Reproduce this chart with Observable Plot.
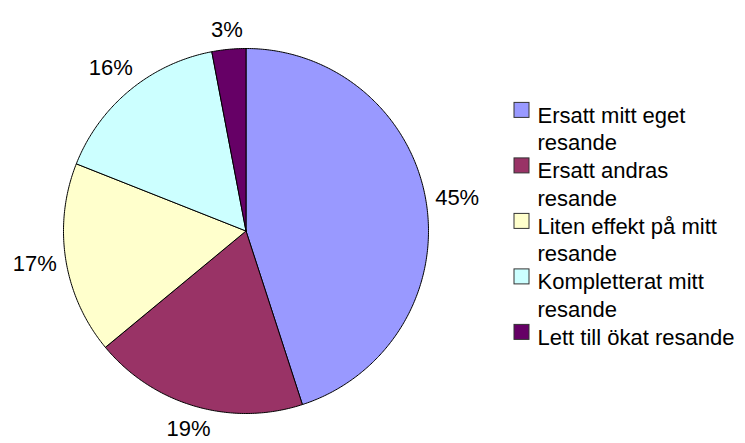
<!DOCTYPE html>
<html>
<head>
<meta charset="utf-8">
<script src="https://cdn.jsdelivr.net/npm/d3@7"></script>
<script src="https://cdn.jsdelivr.net/npm/@observablehq/plot@0.6"></script>
<style>
  html, body { margin: 0; padding: 0; background: #fff; }
  #chart svg { display: block; }
</style>
</head>
<body>
<div id="chart"></div>
<script>
// ---- data ----
const categories = [
  "Ersatt mitt eget resande",
  "Ersatt andras resande",
  "Liten effekt på mitt resande",
  "Kompletterat mitt resande",
  "Lett till ökat resande"
];
const legendLabels = [
  "Ersatt mitt eget\nresande",
  "Ersatt andras\nresande",
  "Liten effekt på mitt\nresande",
  "Kompletterat mitt\nresande",
  "Lett till ökat resande"
];
const values = [45, 19, 17, 16, 3];
const colors = ["#9999FF", "#993366", "#FFFFCC", "#CCFFFF", "#660066"];

// ---- layout ----
const W = 745, H = 443;
const cx = 245.5, cy = 230.5, R = 182.5;
const font = "Arial, 'Liberation Sans', sans-serif";
const fs = 22;
const gap = 8;

const arcs = d3.pie().sort(null).value(d => d)(values);
const pts = (a) => [cx + R * Math.sin(a), cy - R * Math.cos(a)];

const slicePts = [];
arcs.forEach((a, i) => {
  const n = Math.max(2, Math.ceil((a.endAngle - a.startAngle) / 0.01));
  slicePts.push({k: categories[i], x: cx, y: cy});
  for (let j = 0; j <= n; j++) {
    const t = a.startAngle + (a.endAngle - a.startAngle) * j / n;
    const [x, y] = pts(t);
    slicePts.push({k: categories[i], x, y});
  }
  slicePts.push({k: categories[i], x: cx, y: cy});
});

// labels placed just outside the rim: box half-extent along the bisector
const labels = arcs.map((a, i) => {
  const m = (a.startAngle + a.endAngle) / 2;
  const text = values[i] + "%";
  const w = (0.556 * String(values[i]).length + 0.889) * fs;
  const h = 0.9 * fs;
  const s = Math.sin(m), c = Math.cos(m);
  const d = R + gap + Math.abs(s) * w / 2 + Math.abs(c) * h / 2;
  return {text, x: cx + d * s, y: cy - d * c};
});

// legend
const legX = 514, legSize = 15, legTextX = 537, legTop = 102.4, lineH = 27.75;
let yAcc = legTop;
const legend = legendLabels.map((t, i) => {
  const row = {k: categories[i], label: t, y: yAcc};
  yAcc += lineH * t.split("\n").length;
  return row;
});

const colorScale = {domain: categories, range: colors};

const chart = Plot.plot({
  width: W, height: H,
  margin: 0,
  style: {background: "#fff", fontFamily: font},
  x: {domain: [0, W], range: [0, W], axis: null},
  y: {domain: [0, H], range: [0, H], axis: null},
  color: colorScale,
  marks: [
    Plot.line(slicePts, {x: "x", y: "y", z: "k", fill: "k", stroke: "#000", strokeWidth: 1, strokeLinejoin: "round"}),
    Plot.text(labels, {x: "x", y: "y", text: "text", fontSize: fs, fill: "#000", textAnchor: "middle"}),
    Plot.rect(legend, {x1: () => legX, x2: () => legX + legSize, y1: "y", y2: d => d.y + legSize, fill: "k", stroke: "#333", strokeWidth: 1}),
    Plot.text(legend, {x: () => legTextX, y: "y", text: "label", textAnchor: "start", lineAnchor: "top", lineHeight: lineH / fs, fontSize: fs, fill: "#000"})
  ]
});
document.getElementById("chart").appendChild(chart);
</script>
</body>
</html>
